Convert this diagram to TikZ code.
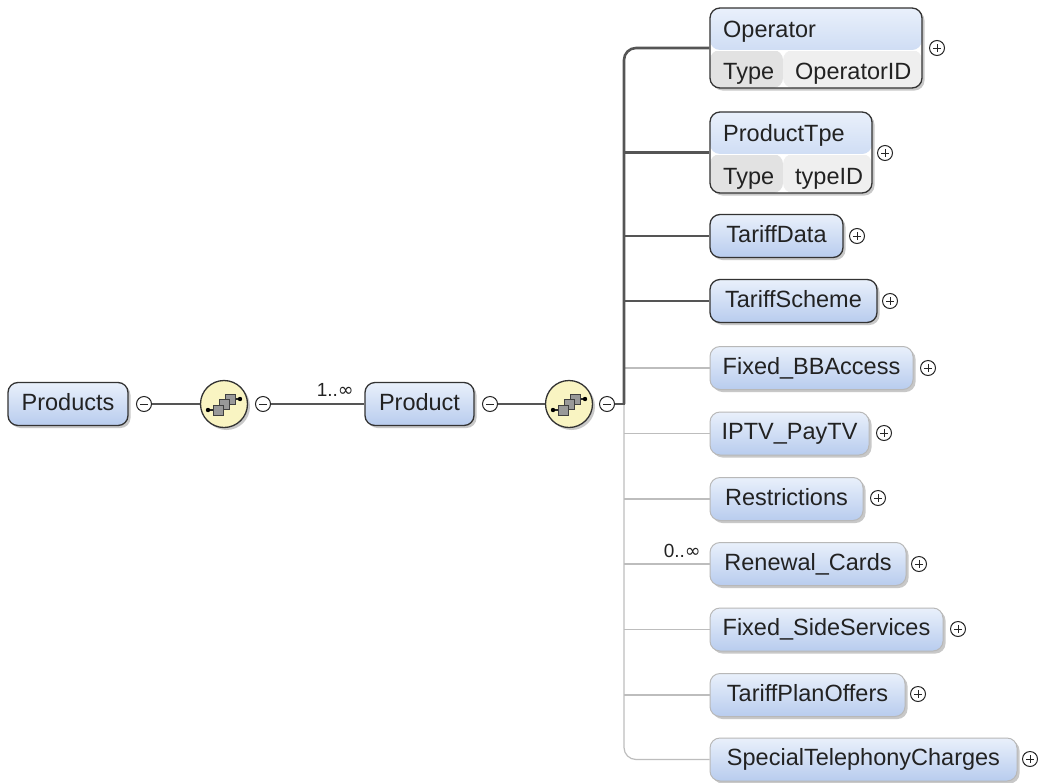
\documentclass[tikz,border=0pt]{standalone}
\usepackage{fontspec}
\setmainfont{Liberation Sans}
\newfontfamily\symfont{DejaVu Sans}
\usetikzlibrary{shadows,calc}
\definecolor{boxtop}{HTML}{E9F0FB}
\definecolor{boxbot}{HTML}{B8CCEE}
\definecolor{mandline}{HTML}{555555}
\definecolor{optline}{HTML}{BDBDBD}
\definecolor{seqfill}{HTML}{F9F4C2}
\definecolor{txt}{HTML}{222222}
\definecolor{typecell}{HTML}{E2E2E2}
\definecolor{valcell}{HTML}{EFEFEF}
\begin{document}
\begin{tikzpicture}[x=1pt,y=-1pt,
  elem/.style={rounded corners=10pt, inner sep=0pt, minimum height=43pt,
    font=\fontsize{23.5}{27}\selectfont, text=txt, text height=16pt, text depth=4pt,
    drop shadow={shadow xshift=2.5pt, shadow yshift=-2.5pt, opacity=0.3, fill=black!70}},
  mandbox/.style={elem, top color=boxtop, bottom color=boxbot, draw=black!80, line width=1.3pt},
  optbox/.style={elem, top color=boxtop, bottom color=boxbot, draw=black!28, line width=1pt},
  typedbox/.style={elem, fill=white, draw=black!80, line width=1.3pt, minimum height=80pt,
    path picture={
      \fill[top color=boxtop, bottom color=boxbot] (path picture bounding box.north west) rectangle ([yshift=-42pt]path picture bounding box.north east);
      \fill[typecell] ([yshift=-42pt]path picture bounding box.north west) rectangle ([xshift=73pt]path picture bounding box.south west);
      \fill[valcell] ([yshift=-42pt,xshift=73pt]path picture bounding box.north west) rectangle (path picture bounding box.south east);
      \draw[white, line width=0.8pt] ([yshift=-42pt]path picture bounding box.north west) -- ([yshift=-42pt]path picture bounding box.north east);
    }},
  txtlbl/.style={inner sep=0pt, font=\fontsize{23.5}{27}\selectfont, text=txt, anchor=base west},
  occ/.style={inner sep=0pt, font=\fontsize{19}{22}\selectfont, text=txt, anchor=base east},
  pmc/.style={circle, draw=black!85, fill=white, minimum size=15pt, inner sep=0pt, line width=1pt},
  plusc/.style={pmc, path picture={
      \draw[line width=1pt] ([xshift=-3.8pt]path picture bounding box.center) -- ([xshift=3.8pt]path picture bounding box.center);
      \draw[line width=1pt] ([yshift=-3.8pt]path picture bounding box.center) -- ([yshift=3.8pt]path picture bounding box.center);}},
  minusc/.style={pmc, path picture={
      \draw[line width=1pt] ([xshift=-3.8pt]path picture bounding box.center) -- ([xshift=3.8pt]path picture bounding box.center);}},
  seqc/.style={circle, minimum size=47pt, inner sep=0pt, fill=seqfill, draw=black!80, line width=1.3pt,
    drop shadow={shadow xshift=2.5pt, shadow yshift=-2.5pt, opacity=0.3, fill=black!70},
    path picture={
      \begin{scope}[shift={(path picture bounding box.center)}]
        \draw[line width=1.4pt, black!85] (-16,6) -- (-10,6);
        \fill[black] (-16,6) circle (2.2);
        \draw[line width=1.4pt, black!85] (10,-5) -- (16,-5);
        \fill[black] (16,-5) circle (2.2);
        \filldraw[fill=black!40, draw=black!75, line width=0.8pt] (1,-10) rectangle (11,0);
        \filldraw[fill=black!40, draw=black!75, line width=0.8pt] (-5,-5) rectangle (5,5);
        \filldraw[fill=black!40, draw=black!75, line width=0.8pt] (-11,1) rectangle (-1,11);
      \end{scope}}},
  mandl/.style={draw=mandline, line width=2.6pt},
  optl/.style={draw=optline, line width=1.2pt}
]
\fill[white] (0,0) rectangle (1044,782);
\useasboundingbox (0,0) rectangle (1044,782);

% left chain
\node[mandbox, minimum width=120pt] (products) at (68,404) {Products};
\node[minusc] (pm1) at (144,404) {};
\node[seqc] (seq1) at (224,404) {};
\node[minusc] (pm2) at (263,404) {};
\node[mandbox, minimum width=109pt] (product) at (419.5,404) {Product};
\node[minusc] (pm3) at (490,404) {};
\node[seqc] (seq2) at (569,404) {};
\node[minusc] (pm4) at (607,404) {};
\node[occ] (occ1) at (354,396) {1..{\symfont ∞}};

% children
\node[typedbox, minimum width=212pt] (op) at (816,48) {};
\node[txtlbl] (opname) at (723,37) {Operator};
\node[txtlbl] (optype) at (723,79) {Type};
\node[txtlbl] (opval) at (795,79) {OperatorID};
\node[plusc] (opx) at (937,48) {};

\node[typedbox, minimum width=162pt, minimum height=81pt] (ptpe) at (791,152.5) {};
\node[txtlbl] (ptname) at (723,141) {ProductTpe};
\node[txtlbl] (pttype) at (723,184) {Type};
\node[txtlbl] (ptval) at (795,184) {typeID};
\node[plusc] (ptx) at (885,153) {};

\node[mandbox, minimum width=133pt] (tdata) at (776.5,236) {TariffData};
\node[plusc] (tdatax) at (857,236) {};
\node[mandbox, minimum width=167pt] (tscheme) at (793.5,301) {TariffScheme};
\node[plusc] (tschemex) at (890,301) {};
\node[optbox, minimum width=203pt] (fbb) at (811.5,368) {Fixed\_BBAccess};
\node[plusc] (fbbx) at (928,368) {};
\node[optbox, minimum width=159pt] (iptv) at (789.5,433.5) {IPTV\_PayTV};
\node[plusc] (iptvx) at (884,433) {};
\node[optbox, minimum width=153pt] (restr) at (786.5,499) {Restrictions};
\node[plusc] (restrx) at (878,498) {};
\node[optbox, minimum width=196pt] (renew) at (808,564) {Renewal\_Cards};
\node[plusc] (renewx) at (919,564) {};
\node[occ] (occ2) at (701,557) {0..{\symfont ∞}};
\node[optbox, minimum width=233pt] (fss) at (826.5,629.5) {Fixed\_SideServices};
\node[plusc] (fssx) at (958,629) {};
\node[optbox, minimum width=195pt] (tpo) at (807.5,695) {TariffPlanOffers};
\node[plusc] (tpox) at (918,694) {};
\node[optbox, minimum width=307pt] (stc) at (863.5,759.5) {SpecialTelephonyCharges};
\node[plusc] (stcx) at (1030,759) {};

% connectors
\coordinate (J) at (624,404);
\draw[mandl] (pm1.east) -- (seq1.west);
\draw[mandl] (pm2.east) -- (product.west);
\draw[mandl] (pm3.east) -- (seq2.west);

\draw[optl, rounded corners=12pt] (J) |- (stc.west);
\foreach \n in {fbb,iptv,restr,renew,fss,tpo}
  \draw[optl] (J |- \n.west) -- (\n.west);

\draw[mandl] (pm4.east) -- ([xshift=1.3pt]J);
\draw[mandl, rounded corners=12pt] (J) |- (op.west);
\foreach \n in {ptpe,tdata,tscheme}
  \draw[mandl] (J |- \n.west) -- (\n.west);
\end{tikzpicture}
\end{document}
